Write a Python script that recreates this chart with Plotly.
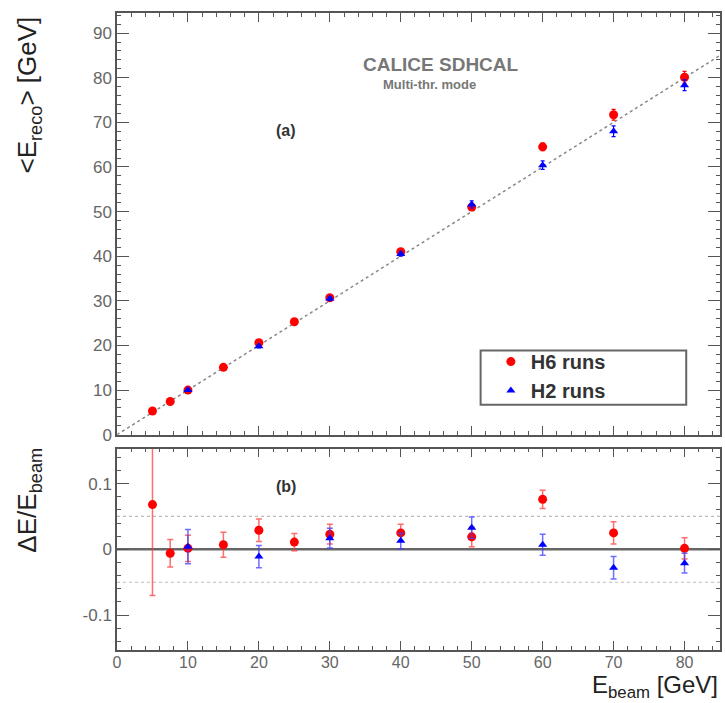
import plotly.graph_objects as go
from plotly.subplots import make_subplots

# ---- data ----
e_h6 = [5, 7.5, 10, 15, 20, 25, 30, 40, 50, 60, 70, 80]
reco_h6 = [5.3, 7.45, 10.0, 15.1, 20.6, 25.3, 30.7, 41.0, 51.0, 64.5, 71.7, 80.1]
reco_h6_err = [0.3, 0.2, 0.2, 0.3, 0.35, 0.3, 0.45, 0.5, 0.75, 0.85, 1.2, 1.3]
dev_h6 = [0.068, -0.006, 0.0015, 0.007, 0.029, 0.011, 0.023, 0.025, 0.019, 0.076, 0.025, 0.0015]
dev_h6_err = [0.138, 0.021, 0.02, 0.019, 0.017, 0.013, 0.015, 0.013, 0.015, 0.014, 0.017, 0.016]

e_h2 = [10, 20, 30, 40, 50, 60, 70, 80]
reco_h2 = [10.0, 19.8, 30.5, 40.5, 51.6, 60.4, 68.0, 78.3]
reco_h2_err = [0.25, 0.35, 0.45, 0.5, 0.8, 0.95, 1.2, 1.2]
dev_h2 = [0.004, -0.011, 0.017, 0.013, 0.033, 0.007, -0.028, -0.021]
dev_h2_err = [0.026, 0.017, 0.015, 0.012, 0.016, 0.016, 0.017, 0.015]

diag_x = [0, 85]
band_levels = [-0.05, 0.05]

RED = "#ff0000"
BLUE = "#0000ff"
AX = "#555555"
FONT = "Liberation Sans, Arial, sans-serif"

fig = make_subplots(rows=2, cols=1, shared_xaxes=False, vertical_spacing=0.0)

# diagonal reference line
fig.add_trace(go.Scatter(x=diag_x, y=diag_x, mode="lines",
                         line=dict(color="#888888", width=1.5, dash="dot"),
                         showlegend=False, hoverinfo="skip"), row=1, col=1)

fig.add_trace(go.Scatter(x=e_h6, y=reco_h6, mode="markers", name="H6 runs",
                         marker=dict(symbol="circle", size=9, color=RED),
                         error_y=dict(type="data", array=reco_h6_err, color=RED,
                                      thickness=1.2, width=2)), row=1, col=1)
fig.add_trace(go.Scatter(x=e_h2, y=reco_h2, mode="markers", name="H2 runs",
                         marker=dict(symbol="triangle-up", size=8, color=BLUE),
                         error_y=dict(type="data", array=reco_h2_err, color=BLUE,
                                      thickness=1.2, width=2)), row=1, col=1)

# bottom panel reference lines
for lv in band_levels:
    fig.add_trace(go.Scatter(x=[0, 85], y=[lv, lv], mode="lines",
                             line=dict(color="#bbbbbb", width=1.2, dash="dot"),
                             showlegend=False, hoverinfo="skip"), row=2, col=1)
fig.add_trace(go.Scatter(x=[0, 85], y=[0, 0], mode="lines",
                         line=dict(color="#666666", width=2.5),
                         showlegend=False, hoverinfo="skip"), row=2, col=1)

fig.add_trace(go.Scatter(x=e_h6, y=dev_h6, mode="markers", showlegend=False,
                         marker=dict(symbol="circle", size=9, color=RED),
                         error_y=dict(type="data", array=dev_h6_err, color="rgba(255,60,60,0.75)",
                                      thickness=1.5, width=3)), row=2, col=1)
fig.add_trace(go.Scatter(x=e_h2, y=dev_h2, mode="markers", showlegend=False,
                         marker=dict(symbol="triangle-up", size=8, color=BLUE),
                         error_y=dict(type="data", array=dev_h2_err, color="rgba(60,60,255,0.75)",
                                      thickness=1.5, width=3)), row=2, col=1)

axis_common = dict(showline=True, linecolor=AX, linewidth=1.5, mirror="ticks",
                   ticks="inside", tickcolor=AX, showgrid=False, zeroline=False,
                   tickfont=dict(family=FONT, size=17, color="#666666"),
                   minor=dict(ticks="inside", ticklen=4, tickcolor=AX))

fig.update_xaxes(range=[0, 85], dtick=10, ticklen=9, showticklabels=False,
                 minor_dtick=2, **axis_common, row=1, col=1)
fig.update_xaxes(range=[0, 85], dtick=10, ticklen=9, minor_dtick=2, **axis_common, row=2, col=1)
fig.update_xaxes(tickfont_size=16, ticklabelstandoff=-3, row=2, col=1)
fig.update_yaxes(range=[0, 94.5], dtick=10, ticklen=12, minor_dtick=2,
                 domain=[0.338, 1.0], **axis_common, row=1, col=1)
fig.update_yaxes(range=[-0.153, 0.153], ticklen=12, minor_dtick=0.02,
                 tickvals=[-0.1, 0, 0.1], ticktext=["-0.1", "0", "0.1"],
                 domain=[0.0, 0.316], **axis_common, row=2, col=1)

fig.update_layout(
    width=725, height=703,
    margin=dict(l=117, r=3, t=13, b=53),
    paper_bgcolor="white", plot_bgcolor="white",
    font=dict(family=FONT, color="#333333"),
    legend=dict(x=0.62, y=0.43, xanchor="left", yanchor="middle",
                bgcolor="rgba(0,0,0,0)", borderwidth=0,
                font=dict(family=FONT, size=20, color="#333333", weight="bold"),
                itemwidth=30, tracegroupgap=2),
    showlegend=True,
)

# legend frame
fig.add_shape(type="rect", xref="paper", yref="paper",
              x0=0.603, x1=0.944, y0=0.385, y1=0.47,
              line=dict(color="#666666", width=2), fillcolor="white", layer="below")

title_font = dict(family=FONT, size=26, color="#222222")
fig.add_annotation(xref="paper", yref="paper", x=-0.146, y=0.872,
                   text="&lt;E<sub>reco</sub>&gt; [GeV]", textangle=-90,
                   showarrow=False, font=title_font, xanchor="center", yanchor="middle")
fig.add_annotation(xref="paper", yref="paper", x=-0.146, y=0.236,
                   text="ΔE/E<sub>beam</sub>", textangle=-90,
                   showarrow=False, font=title_font, xanchor="center", yanchor="middle")
fig.add_annotation(xref="paper", yref="paper", x=1.0, y=-0.058,
                   text="E<sub>beam</sub> [GeV]", showarrow=False,
                   font=dict(family=FONT, size=24, color="#222222"),
                   xanchor="right", yanchor="middle")

fig.add_annotation(xref="paper", yref="paper", x=0.537, y=0.939,
                   text="<b>CALICE SDHCAL</b>", showarrow=False,
                   font=dict(family=FONT, size=19, color="#777777"))
fig.add_annotation(xref="paper", yref="paper", x=0.519, y=0.903,
                   text="<b>Multi-thr. mode</b>", showarrow=False,
                   font=dict(family=FONT, size=13, color="#777777"))
fig.add_annotation(xref="paper", yref="paper", x=0.261, y=0.8315,
                   text="<b>(a)</b>", showarrow=False,
                   font=dict(family=FONT, size=16, color="#333333"))
fig.add_annotation(xref="paper", yref="paper", x=0.261, y=0.240,
                   text="<b>(b)</b>", showarrow=False,
                   font=dict(family=FONT, size=16, color="#333333"))

fig.write_html("out.html", config={"displayModeBar": False},
               post_script="document.body.style.margin='0';")
